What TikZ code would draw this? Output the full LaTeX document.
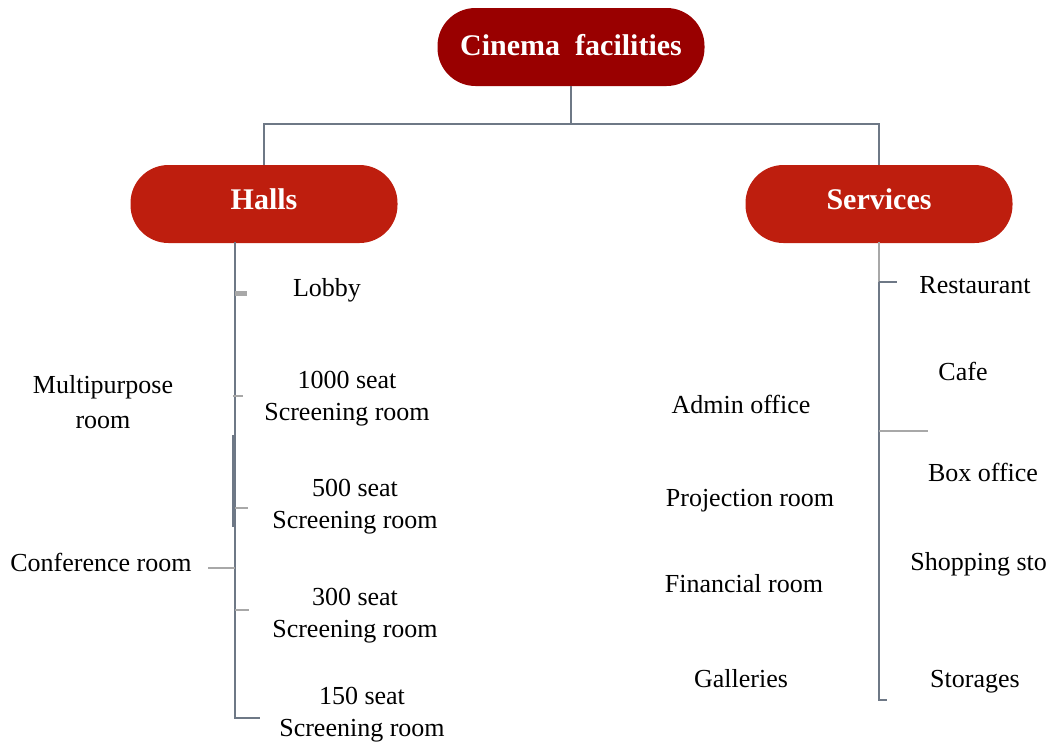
\documentclass[tikz,border=0pt]{standalone}
\usepackage{fontspec}
\setmainfont{Liberation Serif}
\usepackage{tikz}
\usetikzlibrary{calc}

\definecolor{rootred}{HTML}{990000}
\definecolor{boxred}{HTML}{BE1E0E}
\definecolor{linegray}{HTML}{6E7886}
\definecolor{tickgray}{HTML}{A8A8A8}

\tikzset{
  pill/.style={rectangle, rounded corners=19pt, minimum width=133.5pt, minimum height=39pt,
    text=white, font=\fontsize{15}{18}\selectfont\bfseries, inner sep=0pt,
    text height=7pt, text depth=2pt},
  room/.style={align=center, font=\fontsize{13}{16}\selectfont, inner sep=1pt},
  tree/.style={draw=linegray, line width=1pt},
  tick/.style={draw=tickgray, line width=1pt}
}

\begin{document}
\begin{tikzpicture}[x=0.5pt, y=-0.5pt]
    \useasboundingbox (0,0) rectangle (1047,744);
    % main boxes %%%%%%%%%%%%%%%%%%%%%%%%%%%%%%%%%%%%%%%%%%%%%%%%%%%%%%%%%%%%%%%%%%%%%%%%
    \node[pill, fill=rootred, text height=10pt] (cinema) at (571,47) {Cinema~~facilities};
    \node[pill, fill=boxred] (halls) at (264,204) {Halls};
    \node[pill, fill=boxred] (services) at (879,204) {Services};

    % halls rooms %%%%%%%%%%%%%%%%%%%%%%%%%%%%%%%%%%%%%%%%%%%%%%%%%%%%%%%%%%%%%%%%%%%%%%%
    \node[room] (lobby) at (327,290) {Lobby};
    \node[room, font=\fontsize{13}{17.5}\selectfont] (multi) at (103,402) {Multipurpose\\room};
    \node[room] (hall1000) at (347,399) {1000 seat\\Screening room};
    \node[room] (hall500) at (355,507) {500 seat\\Screening room};
    \node[room] (conf) at (101,562) {Conference room};
    \node[room] (hall300) at (355,616) {300 seat\\Screening room};
    \node[room] (hall150) at (362,715) {150 seat\\Screening room};

    % services rooms %%%%%%%%%%%%%%%%%%%%%%%%%%%%%%%%%%%%%%%%%%%%%%%%%%%%%%%%%%%%%%%%%%%%
    \node[room] (admin) at (741,404) {Admin office};
    \node[room] (proj) at (750,501) {Projection room};
    \node[room] (fin) at (744,584) {Financial room};
    \node[room] (gal) at (741,679) {Galleries};
    \node[room] (rest) at (975,285) {Restaurant};
    \node[room] (cafe) at (963,371) {Cafe};
    \node[room] (box) at (983,472) {Box office};
    \node[room, anchor=west] (shop) at (908,564) {Shopping sto};
    \node[room] (stor) at (975,682) {Storages};

    % tree lines %%%%%%%%%%%%%%%%%%%%%%%%%%%%%%%%%%%%%%%%%%%%%%%%%%%%%%%%%%%%%%%%%%%%%%%%
    \coordinate (bus) at (571,124);
    \draw[tree] (cinema.south) -- (bus);
    \draw[tree] (bus) -| (halls.north);
    \draw[tree] (bus) -| (services.north);

    % halls spine
    \coordinate (hspine) at (235,242);
    \draw[tree] (hspine) |- ($(hall150.west)+(-17,3)$);
    \draw[tree] (233,435) -- (233,527);
    \draw[tick, line width=2.5pt] (235,293) -- (247,293);
    \draw[tick] (233,396) -- (243,396);
    \draw[tick] (235,508) -- (248,508);
    \draw[tick] (235,568) -- ($(conf.east)+(14,6)$);
    \draw[tick] (235,610) -- (249,610);

    % services spine
    \coordinate (sspine) at (879,282);
    \draw[tick] (879,242) -- (sspine);
    \draw[tree] (sspine) |- (887,700);
    \draw[tree] (sspine) -- ($(rest.west)+(-20,-3)$);
    \draw[tick] (879,431) -- (928,431);

\end{tikzpicture}
\end{document}
